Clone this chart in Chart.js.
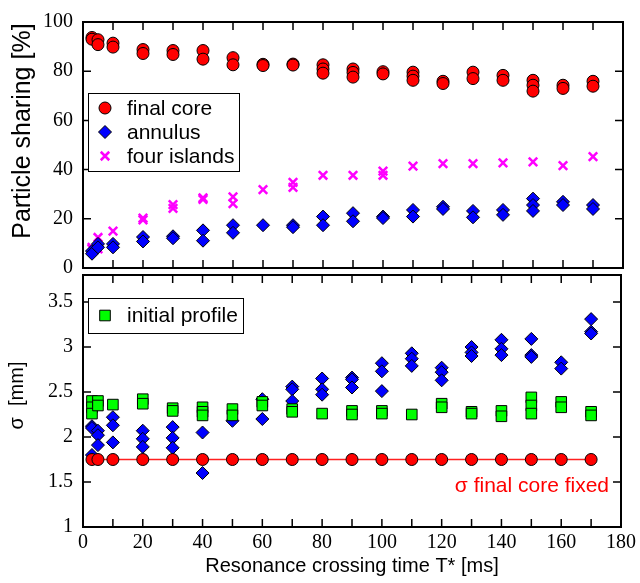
<!DOCTYPE html>
<html>
<head>
<meta charset="utf-8">
<script src="https://cdn.jsdelivr.net/npm/chart.js@4.4.1/dist/chart.umd.min.js"></script>
<style>
  body { margin: 0; background: #fff; }
  #wrap { position: relative; width: 640px; height: 583px; }
  #wrap canvas { position: absolute; left: 0; top: 0; }
</style>
</head>
<body>
<div id="wrap">
  <canvas id="topChart" width="640" height="583"></canvas>
  <canvas id="bottomChart" width="640" height="583"></canvas>
</div>
<script>
// crossing times T* [ms]
const times = [3, 5, 10, 20, 30, 40, 50, 60, 70, 80, 90, 100, 110, 120, 130, 140, 150, 160, 170];

// particle sharing [%], several runs per crossing time
const coreShare = [
  [93.7, 93.0], [92.8, 90.8], [91.4, 89.8], [88.8, 87.2], [88.4, 86.8], [88.4, 84.9],
  [85.5, 82.6], [82.8, 82.3], [82.9, 82.5], [82.6, 80.9, 79.2], [80.9, 79.5, 77.6],
  [79.8, 78.9], [79.6, 78.0, 76.3], [75.9, 75.0], [79.6, 77.0], [78.3, 76.3],
  [76.3, 74.3, 71.9], [74.3, 73.0], [75.9, 73.9]
];
const annulusShare = [
  [6.9, 5.8], [9.8, 8.4], [9.8, 8.4], [12.6, 10.8], [12.9, 12.1], [15.3, 11.1],
  [17.4, 14.3], [17.4], [17.4, 16.6], [20.9, 17.4], [22.3, 19.0], [20.9, 20.3],
  [23.6, 20.9], [24.9, 24.0], [23.2, 20.6], [23.6, 21.6], [28.2, 25.6, 23.2],
  [26.9, 25.6], [25.6, 24.0]
];
const islandsShare = [
  [8.4, 7.8], [12.4, 7.8], [15.0], [20.3, 19.6], [25.8, 24.2], [28.5, 27.9],
  [28.9, 26.2], [31.9], [34.8, 32.8], [37.7], [37.7], [39.4, 37.7], [41.4],
  [42.4], [42.4], [42.7], [43.1], [41.6], [45.3]
];

// beam sizes sigma [mm]
const initialSigma = [
  [2.40, 2.33, 2.26], [2.40, 2.35], [2.36], [2.42, 2.37], [2.32, 2.29], [2.33, 2.28, 2.24],
  [2.31, 2.24], [2.39, 2.35], [2.31, 2.28], [2.26], [2.29, 2.25], [2.29, 2.26],
  [2.25], [2.37, 2.33], [2.28, 2.26], [2.29, 2.23], [2.44, 2.35, 2.26], [2.39, 2.33],
  [2.28, 2.24]
];
const annulusSigma = [
  [2.12, 2.10, 1.80], [2.07, 2.02, 1.91], [2.22, 2.13, 1.94], [2.07, 1.98, 1.89],
  [2.11, 1.99, 1.88], [2.05, 1.60], [2.18], [2.42, 2.20], [2.56, 2.53, 2.40],
  [2.65, 2.53, 2.47], [2.66, 2.64, 2.55], [2.82, 2.73, 2.51], [2.93, 2.87, 2.79],
  [2.77, 2.72, 2.63], [3.00, 2.94, 2.90], [3.08, 2.98, 2.91], [3.09, 2.91, 2.89],
  [2.83, 2.76], [3.31, 3.17, 3.15]
];
const coreSigmaFixed = 1.75;

function toPoints(vals) {
  const out = [];
  vals.forEach((ys, i) => ys.forEach(y => out.push({ x: times[i], y: y })));
  return out;
}

const serif = '"Liberation Serif", "Times New Roman", serif';
const sans = '"Liberation Sans", Arial, sans-serif';

// frame + inward ticks on all four sides
const framePlugin = {
  id: 'frame',
  afterDatasetsDraw(chart) {
    const { ctx, chartArea: a, scales } = chart;
    ctx.save();
    ctx.strokeStyle = '#000';
    ctx.lineWidth = 1.5;
    ctx.beginPath();
    scales.x.ticks.forEach(t => {
      const px = scales.x.getPixelForValue(t.value);
      if (px <= a.left + 1 || px >= a.right - 1) return;
      ctx.moveTo(px, a.bottom); ctx.lineTo(px, a.bottom - 8);
      ctx.moveTo(px, a.top); ctx.lineTo(px, a.top + 8);
    });
    scales.y.ticks.forEach(t => {
      const py = scales.y.getPixelForValue(t.value);
      if (py <= a.top + 1 || py >= a.bottom - 1) return;
      ctx.moveTo(a.left, py); ctx.lineTo(a.left + 8, py);
      ctx.moveTo(a.right, py); ctx.lineTo(a.right - 8, py);
    });
    ctx.stroke();
    ctx.lineWidth = 2;
    ctx.strokeRect(a.left, a.top, a.right - a.left, a.bottom - a.top);
    ctx.restore();
  }
};

// boxed legend inside the plot, drawn from dataset styles
const boxLegendPlugin = {
  id: 'boxLegend',
  afterDraw(chart, args, opts) {
    if (!opts.box) return;
    const ctx = chart.ctx;
    const [x0, y0, x1, y1] = opts.box;
    ctx.save();
    ctx.fillStyle = '#fff';
    ctx.fillRect(x0, y0, x1 - x0, y1 - y0);
    ctx.strokeStyle = '#000';
    ctx.lineWidth = 1;
    ctx.strokeRect(x0 + 0.5, y0 + 0.5, x1 - x0, y1 - y0);
    opts.items.forEach((idx, k) => {
      const ds = chart.data.datasets[idx];
      const y = y0 + opts.first + k * opts.gap;
      ctx.fillStyle = ds.pointBackgroundColor || ds.backgroundColor;
      ctx.strokeStyle = ds.pointBorderColor || ds.borderColor;
      ctx.lineWidth = ds.borderWidth;
      Chart.helpers.drawPoint(ctx, {
        pointStyle: ds.pointStyle, radius: ds.pointRadius,
        borderWidth: ds.borderWidth, rotation: 0
      }, x0 + 17, y);
      ctx.fillStyle = '#000';
      ctx.font = '21px ' + sans;
      ctx.textAlign = 'left';
      ctx.textBaseline = 'middle';
      ctx.fillText(ds.label, x0 + 39, y + 1);
    });
    ctx.restore();
  }
};

// text note next to the fixed final core sigma line
const notePlugin = {
  id: 'note',
  afterDraw(chart, args, opts) {
    if (!opts.text) return;
    const { ctx, scales } = chart;
    ctx.save();
    ctx.fillStyle = opts.color;
    ctx.font = '21px ' + sans;
    ctx.textAlign = 'right';
    ctx.textBaseline = 'middle';
    ctx.fillText(opts.text, scales.x.getPixelForValue(opts.x), scales.y.getPixelForValue(opts.y));
    ctx.restore();
  }
};

Chart.register(framePlugin, boxLegendPlugin, notePlugin);

new Chart(document.getElementById('topChart'), {
  type: 'scatter',
  data: {
    datasets: [{
      label: 'final core',
      data: toPoints(coreShare),
      pointStyle: 'circle', pointRadius: 6,
      backgroundColor: '#ff0000', borderColor: '#000', borderWidth: 1
    }, {
      label: 'annulus',
      data: toPoints(annulusShare),
      pointStyle: 'rectRot', pointRadius: 6.5,
      backgroundColor: '#0000ff', borderColor: '#000', borderWidth: 1
    }, {
      label: 'four islands',
      data: toPoints(islandsShare),
      pointStyle: 'crossRot', pointRadius: 6,
      backgroundColor: '#ff00ff', borderColor: '#ff00ff', borderWidth: 2.5
    }]
  },
  options: {
    responsive: false,
    animation: false,
    layout: { padding: { left: 0, top: 15, right: 17, bottom: 315 } },
    scales: {
      x: {
        type: 'linear', min: 0, max: 180,
        ticks: { display: false, stepSize: 10 },
        grid: { display: false, drawTicks: false },
        border: { display: false }
      },
      y: {
        min: 0, max: 100,
        afterFit: s => { s.width = 83; },
        ticks: {
          stepSize: 10, padding: 10, color: '#000',
          font: { family: serif, size: 20 },
          callback: v => (v % 20 === 0 ? v : '')
        },
        grid: { display: false, drawTicks: false },
        border: { display: false },
        title: {
          display: true, text: '    Particle sharing [%]', color: '#000',
          font: { family: sans, size: 25 }, padding: { top: 8, bottom: 0 }
        }
      }
    },
    plugins: {
      legend: { display: false },
      tooltip: { enabled: false },
      boxLegend: { box: [88, 93, 239, 171], items: [0, 1, 2], first: 15, gap: 24 }
    }
  }
});

new Chart(document.getElementById('bottomChart'), {
  type: 'scatter',
  data: {
    datasets: [{
      label: 'final core fixed',
      data: times.map(t => ({ x: t, y: coreSigmaFixed })),
      showLine: true, order: 0,
      pointStyle: 'circle', pointRadius: 6, pointBorderWidth: 1,
      pointBackgroundColor: '#ff0000', pointBorderColor: '#000',
      borderColor: '#ff2020', borderWidth: 1.5
    }, {
      label: 'initial profile',
      data: toPoints(initialSigma), order: 1,
      pointStyle: 'rect', pointRadius: 7.5,
      backgroundColor: '#00ff00', borderColor: '#000', borderWidth: 1
    }, {
      label: 'annulus',
      data: toPoints(annulusSigma), order: 2,
      pointStyle: 'rectRot', pointRadius: 6.5,
      backgroundColor: '#0000ff', borderColor: '#000', borderWidth: 1
    }]
  },
  options: {
    responsive: false,
    animation: false,
    layout: { padding: { left: 0, top: 275, right: 17, bottom: 0 } },
    scales: {
      x: {
        type: 'linear', min: 0, max: 180,
        afterFit: s => { s.height = 56; },
        ticks: {
          stepSize: 10, padding: 4, color: '#000', autoSkip: false, maxRotation: 0,
          font: { family: serif, size: 20 },
          callback: v => (v % 20 === 0 ? v : '')
        },
        grid: { display: false, drawTicks: false },
        border: { display: false },
        title: {
          display: true, text: 'Resonance crossing time T* [ms]', color: '#000',
          font: { family: sans, size: 20 }, padding: { top: 0, bottom: 5 }
        }
      },
      y: {
        min: 1, max: 3.8,
        afterFit: s => { s.width = 83; },
        ticks: {
          stepSize: 0.25, padding: 10, color: '#000',
          font: { family: serif, size: 20 },
          callback: v => (Math.abs(v * 2 - Math.round(v * 2)) < 1e-6 ? String(v) : '')
        },
        grid: { display: false, drawTicks: false },
        border: { display: false },
        title: {
          display: true, text: '  σ  [mm]', color: '#000',
          font: { family: sans, size: 20 }, padding: { top: 5, bottom: 0 }
        }
      }
    },
    plugins: {
      legend: { display: false },
      tooltip: { enabled: false },
      boxLegend: { box: [88, 298, 243, 333], items: [1], first: 17.5, gap: 24 },
      note: { text: 'σ final core fixed', color: '#ff0000', x: 176, y: 1.45 }
    }
  }
});
</script>
</body>
</html>
